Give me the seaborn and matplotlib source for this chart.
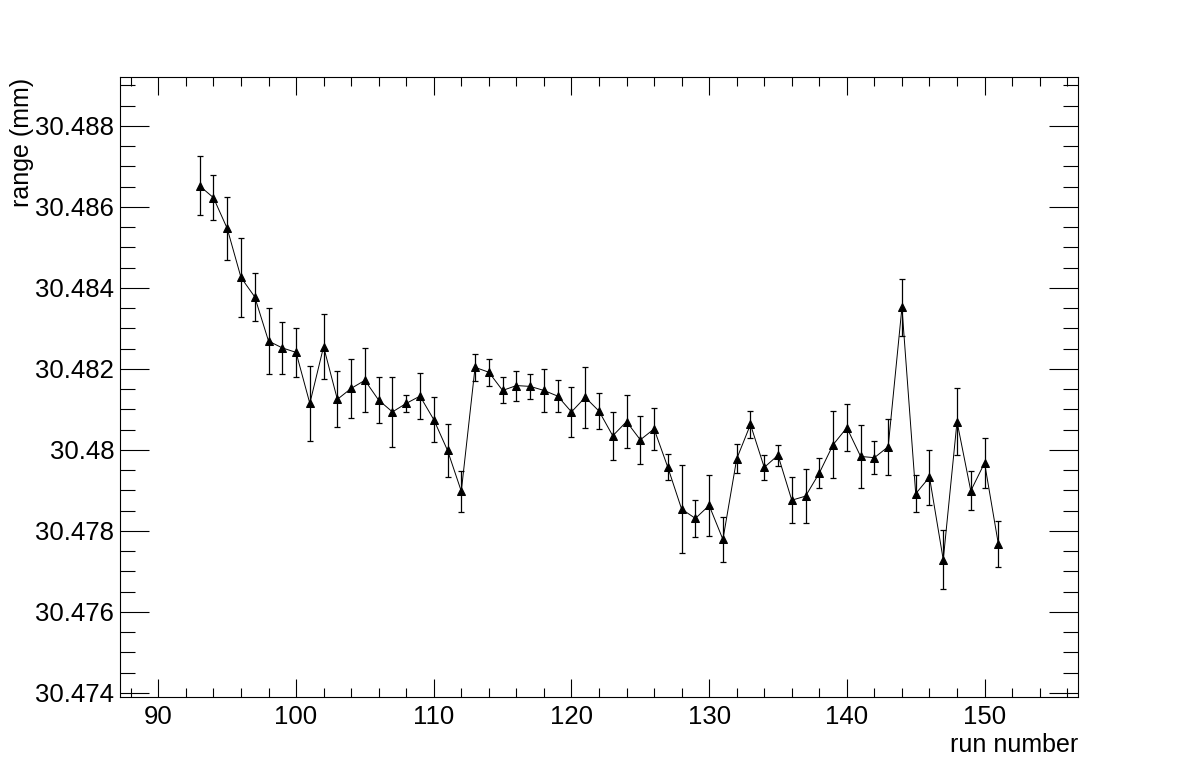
import numpy as np
import pandas as pd
import matplotlib
matplotlib.use("Agg")
import matplotlib.pyplot as plt
import seaborn as sns
from matplotlib.ticker import MultipleLocator

runs = list(range(93, 152))
range_mm = [
    30.48652, 30.48623, 30.48547, 30.48426, 30.48378, 30.48269, 30.48252, 30.48241,
    30.48115, 30.48255, 30.48125, 30.48152, 30.48172, 30.48123, 30.48094, 30.48115,
    30.48133, 30.48075, 30.47999, 30.47898, 30.48204, 30.48192, 30.48147, 30.48159,
    30.48157, 30.48147, 30.48133, 30.48094, 30.48130, 30.48096, 30.48035, 30.48070,
    30.48025, 30.48052, 30.47957, 30.47854, 30.47831, 30.47863, 30.47779, 30.47978,
    30.48063, 30.47957, 30.47987, 30.47876, 30.47886, 30.47943, 30.48013, 30.48055,
    30.47984, 30.47981, 30.48008, 30.48352, 30.47892, 30.47933, 30.47729, 30.48070,
    30.47899, 30.47968, 30.47768,
]
range_err = [
    0.00073, 0.00056, 0.00077, 0.00098, 0.00060, 0.00082, 0.00064, 0.00061,
    0.00093, 0.00080, 0.00069, 0.00072, 0.00079, 0.00057, 0.00087, 0.00021,
    0.00056, 0.00056, 0.00065, 0.00051, 0.00033, 0.00033, 0.00032, 0.00037,
    0.00031, 0.00052, 0.00040, 0.00061, 0.00075, 0.00044, 0.00059, 0.00065,
    0.00060, 0.00051, 0.00032, 0.00108, 0.00046, 0.00076, 0.00055, 0.00036,
    0.00034, 0.00030, 0.00026, 0.00057, 0.00066, 0.00036, 0.00083, 0.00058,
    0.00077, 0.00041, 0.00069, 0.00070, 0.00045, 0.00068, 0.00073, 0.00082,
    0.00048, 0.00061, 0.00056,
]

df = pd.DataFrame({"run": runs, "range": range_mm, "err": range_err})

sns.set_style("ticks")
plt.rcParams['font.family'] = ['Liberation Sans', 'DejaVu Sans']

fig = plt.figure(figsize=(11.98, 7.74), dpi=100)
ax = fig.add_axes([0.1, 0.1, 0.8, 0.8])

# error bars + line with triangle markers
ax.errorbar(df["run"], df["range"], yerr=df["err"], fmt="none", ecolor="black",
            elinewidth=0.9, capsize=2.5, capthick=0.9, zorder=2)
sns.lineplot(data=df, x="run", y="range", color="black", linewidth=0.7,
             marker="^", markersize=6, markeredgecolor="black", ax=ax, zorder=3)

ax.set_xlim(87.2, 156.8)
ax.set_ylim(30.47391, 30.48920)

ax.xaxis.set_major_locator(MultipleLocator(10))
ax.xaxis.set_minor_locator(MultipleLocator(2))
ax.yaxis.set_major_locator(MultipleLocator(0.002))
ax.yaxis.set_minor_locator(MultipleLocator(0.0005))

def fmt_y(v, pos):
    s = "%.3f" % v
    return s.rstrip("0").rstrip(".") if "." in s else s

ax.yaxis.set_major_formatter(matplotlib.ticker.FuncFormatter(fmt_y))

ax.tick_params(axis="both", which="both", direction="in", top=True, right=True,
               width=0.8, labelsize=18.5, colors="black", labelcolor="black")
ax.tick_params(axis="x", which="major", length=13, pad=6)
ax.tick_params(axis="x", which="minor", length=6.5)
ax.tick_params(axis="y", which="major", length=21, pad=4)
ax.tick_params(axis="y", which="minor", length=11)

for sp in ax.spines.values():
    sp.set_linewidth(0.8)
    sp.set_color("black")

ax.set_xlabel("run number", fontsize=18, loc="right", labelpad=3, color="black")
ax.set_ylabel("range (mm)", fontsize=18, loc="top", labelpad=1, color="black")

fig.savefig("out.png", dpi=100, facecolor="white")
